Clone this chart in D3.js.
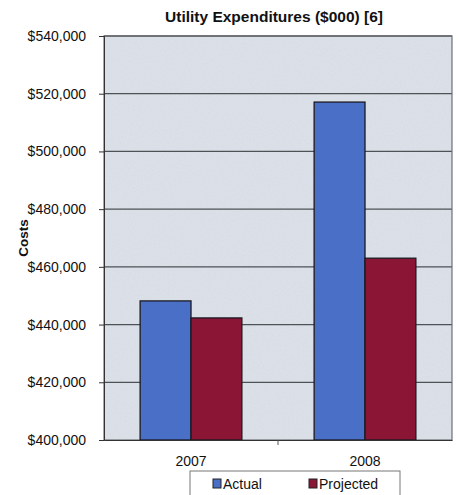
<!DOCTYPE html>
<html>
<head>
<meta charset="utf-8">
<script src="https://cdn.jsdelivr.net/npm/d3@7"></script>
<style>
  html, body { margin: 0; padding: 0; background: #ffffff; }
  svg { display: block; font-family: Arial, "Liberation Sans", sans-serif; }
</style>
</head>
<body>
<svg id="chart" width="459" height="495"></svg>
<script>
// Utility expenditures, actual vs projected
const years = ["2007", "2008"];
const seriesNames = ["Actual", "Projected"];
const actual = [448200, 517100];
const projected = [442300, 463000];
const yTicks = [400000, 420000, 440000, 460000, 480000, 500000, 520000, 540000];
const colors = ["#4a6fc6", "#8a1535"];

const svg = d3.select("#chart");
const margin = { left: 104, right: 7, top: 36, bottom: 55 };
const W = 459, H = 495;
const x0 = margin.left, x1 = W - margin.right;
const y0 = H - margin.bottom, y1 = margin.top;

const x = d3.scaleBand().domain(years).range([x0, x1]).paddingInner(0).paddingOuter(0);
const xs = d3.scaleBand().domain(seriesNames).range([0, x.bandwidth()]).paddingInner(0).paddingOuter(0.71);
const y = d3.scaleLinear().domain([400000, 540000]).range([y0, y1]);

// plot background with a faint texture
const defs = svg.append("defs");
const filt = defs.append("filter").attr("id", "grain").attr("x", 0).attr("y", 0).attr("width", 1).attr("height", 1);
filt.append("feTurbulence").attr("type", "fractalNoise").attr("baseFrequency", 0.6).attr("numOctaves", 2).attr("seed", 3).attr("result", "n");
filt.append("feColorMatrix").attr("in", "n").attr("type", "matrix")
  .attr("values", "0 0 0 0 0.80  0 0 0 0 0.82  0 0 0 0 0.87  0 0 0 0.4 0").attr("result", "c");
filt.append("feComposite").attr("in", "c").attr("in2", "SourceGraphic").attr("operator", "over");

svg.append("rect")
  .attr("x", x0).attr("y", y1).attr("width", x1 - x0).attr("height", y0 - y1)
  .attr("fill", "#d7dce4").attr("filter", "url(#grain)");

// gridlines
svg.append("g").selectAll("line").data(yTicks.slice(1)).join("line")
  .attr("x1", x0).attr("x2", x1)
  .attr("y1", d => y(d)).attr("y2", d => y(d))
  .attr("stroke", "#4d5256").attr("stroke-width", 1.3);

// plot frame
svg.append("rect")
  .attr("x", x0).attr("y", y1).attr("width", x1 - x0).attr("height", y0 - y1)
  .attr("fill", "none").attr("stroke", "#6d7074").attr("stroke-width", 1.2);

// bars
const rows = years.map((yr, i) => ({ year: yr, values: [actual[i], projected[i]] }));
const g = svg.append("g").selectAll("g").data(rows).join("g")
  .attr("transform", d => `translate(${x(d.year)},0)`);
g.selectAll("rect").data(d => d.values.map((v, j) => ({ name: seriesNames[j], v, j }))).join("rect")
  .attr("x", d => xs(d.name))
  .attr("y", d => y(d.v))
  .attr("width", xs.bandwidth())
  .attr("height", d => y0 - y(d.v))
  .attr("fill", d => colors[d.j])
  .attr("stroke", "#1a1a22").attr("stroke-width", 1.3);

// y axis
const yAxis = d3.axisLeft(y).tickValues(yTicks).tickSize(5).tickPadding(13)
  .tickFormat(d => "$" + d3.format(",")(d));
const ya = svg.append("g").attr("transform", `translate(${x0},0)`).call(yAxis);
ya.select(".domain").attr("stroke", "#333");
ya.selectAll(".tick line").attr("stroke", "#333");
ya.selectAll("text").attr("font-size", 14).attr("fill", "#111")
  .attr("font-family", "Arial, 'Liberation Sans', sans-serif");

// x axis
const xAxis = d3.axisBottom(x).tickSize(0).tickPadding(16);
const xa = svg.append("g").attr("transform", `translate(0,${y0})`).call(xAxis);
xa.select(".domain").attr("stroke", "#333");
xa.selectAll("text").attr("font-size", 14).attr("fill", "#111")
  .attr("font-family", "Arial, 'Liberation Sans', sans-serif");
// category separator tick
svg.append("line")
  .attr("x1", x("2008")).attr("x2", x("2008"))
  .attr("y1", y0).attr("y2", y0 + 5).attr("stroke", "#555");

// title
svg.append("text").attr("x", 274).attr("y", 22).attr("text-anchor", "middle")
  .attr("font-size", 15.5).attr("font-weight", "bold").attr("fill", "#111")
  .text("Utility Expenditures ($000) [6]");

// y axis title
svg.append("text").attr("transform", "translate(28,238) rotate(-90)")
  .attr("text-anchor", "middle").attr("font-size", 13.5).attr("font-weight", "bold").attr("fill", "#111")
  .text("Costs");

// legend
const lg = svg.append("g").attr("transform", "translate(190,471)");
lg.append("rect").attr("x", 0).attr("y", 0).attr("width", 210).attr("height", 30)
  .attr("fill", "#fff").attr("stroke", "#777").attr("stroke-width", 1);
const items = [{ name: "Actual", dx: 23 }, { name: "Projected", dx: 119 }];
items.forEach((it, i) => {
  lg.append("rect").attr("x", it.dx).attr("y", 8).attr("width", 8).attr("height", 9)
    .attr("fill", colors[i]).attr("stroke", "#222").attr("stroke-width", 1);
  lg.append("text").attr("x", it.dx + 10).attr("y", 18)
    .attr("font-size", 14).attr("fill", "#111").text(it.name);
});
</script>
</body>
</html>
